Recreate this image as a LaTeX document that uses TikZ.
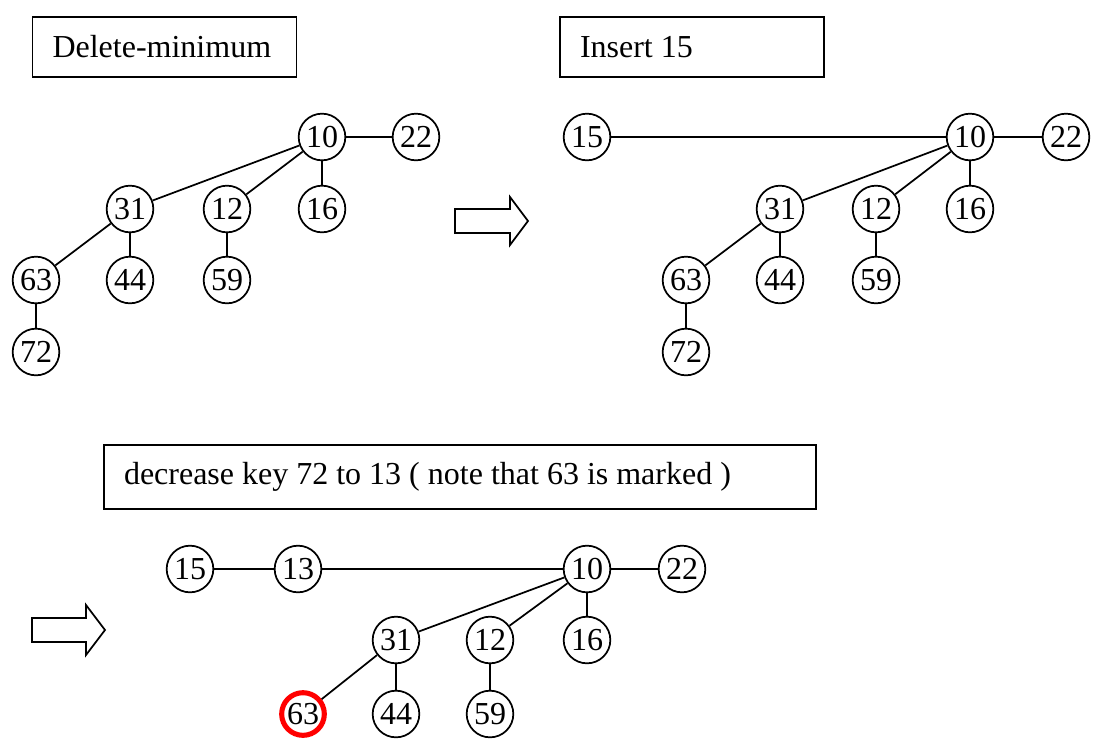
\documentclass[tikz,border=0pt]{standalone}
\usepackage{fontspec}
\setmainfont{Liberation Serif}
\usetikzlibrary{positioning}

\begin{document}
\begin{tikzpicture}[x=0.75pt,y=-0.75pt,
    font=\fontsize{24}{28}\selectfont,
    key/.style={draw,circle,minimum size=35pt,inner sep=0pt,line width=1.3pt},
    marked/.style={key,draw=red,minimum size=32pt,line width=3.8pt},
    titlebox/.style={draw,rectangle,line width=1.2pt,align=left,inner xsep=15pt,
      execute at begin node={\spaceskip=0.25em\relax}},
    link/.style={line width=1.3pt},
    blockarrow/.style={line width=1.3pt,line join=miter}]
    \useasboundingbox (0,0) rectangle (1099,740);
    % Delete-minimum
    \node[titlebox,text width=168pt,minimum height=45pt] (delmin) at (164.5,47) {Delete-minimum};
    \node[key] (a10) at (322,137) {10};
    \node[key] (a22) at (416,137) {22};
    \node[key] (a31) at (130,209) {31};
    \node[key] (a12) at (227,209) {12};
    \node[key] (a16) at (322,209) {16};
    \node[key] (a63) at (36,280) {63};
    \node[key] (a44) at (130,280) {44};
    \node[key] (a59) at (227,280) {59};
    \node[key] (a72) at (36,352) {72};
    \draw[link] (a10) -- (a22) (a10) -- (a31) (a10) -- (a12) (a10) -- (a16);
    \draw[link] (a31) -- (a63) (a31) -- (a44) (a12) -- (a59) (a63) -- (a72);
    \draw[blockarrow] (455,209) -- (510,209) -- (510,197) -- (528,221) -- (510,245) -- (510,233) -- (455,233) -- cycle; %矢印
    % Insert 15
    \node[titlebox,text width=168pt,minimum height=45pt] (ins) at (692,47) {Insert 15};
    \node[key] (b15) at (587,137) {15};
    \node[key] (b10) at (970,137) {10};
    \node[key] (b22) at (1066,137) {22};
    \node[key] (b31) at (780,209) {31};
    \node[key] (b12) at (876,209) {12};
    \node[key] (b16) at (970,209) {16};
    \node[key] (b63) at (686,280) {63};
    \node[key] (b44) at (780,280) {44};
    \node[key] (b59) at (876,280) {59};
    \node[key] (b72) at (686,352) {72};
    \draw[link] (b15) -- (b10) (b10) -- (b22) (b10) -- (b31) (b10) -- (b12) (b10) -- (b16);
    \draw[link] (b31) -- (b63) (b31) -- (b44) (b12) -- (b59) (b63) -- (b72);
    % decrease key
    \node[titlebox,text width=504pt,minimum height=48pt] (deckey) at (460,477) {decrease key 72 to 13 ( note that 63 is marked )};
    \draw[blockarrow] (32,618) -- (86,618) -- (86,605) -- (105,630) -- (86,655) -- (86,642) -- (32,642) -- cycle; %矢印
    \node[key] (c15) at (190,569) {15};
    \node[key] (c13) at (298,569) {13};
    \node[key] (c10) at (587,569) {10};
    \node[key] (c22) at (682,569) {22};
    \node[key] (c31) at (396,640) {31};
    \node[key] (c12) at (490,640) {12};
    \node[key] (c16) at (587,640) {16};
    \node[marked] (c63) at (303,714) {63}; %marked
    \node[key] (c44) at (396,714) {44};
    \node[key] (c59) at (490,714) {59};
    \draw[link] (c15) -- (c13) (c13) -- (c10) (c10) -- (c22) (c10) -- (c31) (c10) -- (c12) (c10) -- (c16);
    \draw[link] (c31) -- (c63) (c31) -- (c44) (c12) -- (c59);
\end{tikzpicture}
\end{document}
